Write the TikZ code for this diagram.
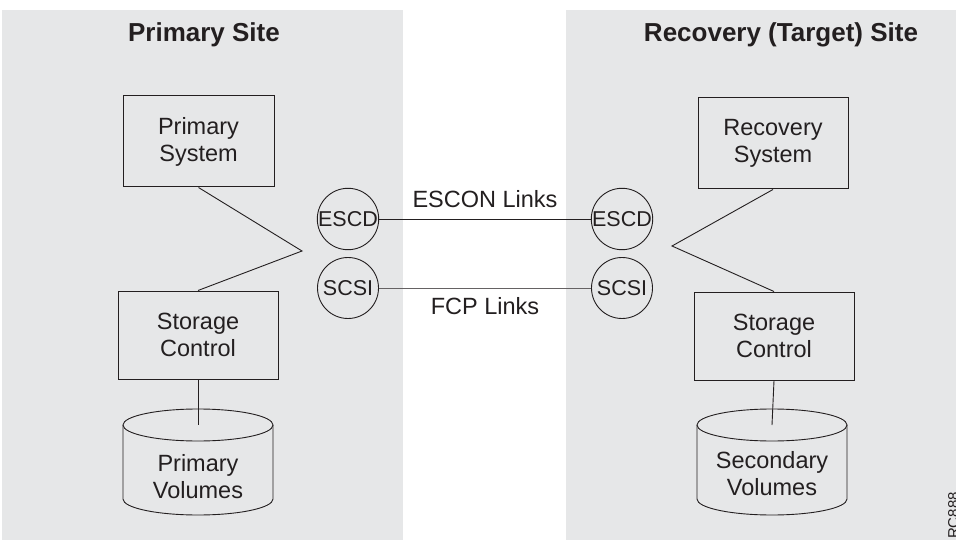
\documentclass[tikz,border=0pt]{standalone}
\usepackage{fontspec}
\setmainfont{Liberation Sans}

\definecolor{sitegray}{HTML}{E6E7E8}
\definecolor{ink}{HTML}{231F20}

\tikzset{
  unit/.style={draw=ink, line width=1pt, align=center, inner sep=0pt, minimum height=91pt},
  port/.style={draw=ink, circle, line width=0.9pt, minimum size=61pt, inner sep=0pt,
    font=\fontsize{21.5}{27}\selectfont},
  wire/.style={draw=ink, line width=0.9pt},
  sitetitle/.style={anchor=base, font=\fontsize{26}{30}\selectfont\bfseries}
}

\begin{document}
\begin{tikzpicture}[x=1pt,y=-1pt,
  every node/.style={text=ink, font=\fontsize{23.5}{27}\selectfont}]
\useasboundingbox (0,0) rectangle (956,540);
\fill[white] (0,0) rectangle (956,540);
\fill[sitegray] (2,10) rectangle (403,540);
\fill[sitegray] (566,10) rectangle (956,540);
% site titles
\node[sitetitle] (ptitle) at (204,41.7) {Primary Site};
\node[sitetitle] (rtitle) at (781,41.7) {Recovery (Target) Site};
% primary site
\node[unit, minimum width=151pt] (psys) at (198.5,141.5) {Primary\\System};
\node[unit, minimum width=160pt, minimum height=88pt] (pstor) at (198,335) {Storage\\Control};
\coordinate (pbend) at (302,251);
\draw[wire] (psys.south) -- (pbend) -- (pstor.north);
\coordinate (pvtop) at (198,425);
\draw[wire] (pstor.south) -- (pvtop);
\draw[wire] (123,425) -- (123,499) arc[start angle=180, end angle=0, x radius=75, y radius=16] -- (273,425);
\draw[wire] (pvtop) ellipse [x radius=75, y radius=16];
\node[align=center] (pvol) at (198,477) {Primary\\Volumes};
% recovery site
\node[unit, minimum width=150pt] (rsys) at (773,143.5) {Recovery\\System};
\node[unit, minimum width=160pt, minimum height=88pt] (rstor) at (774,336) {Storage\\Control};
\coordinate (rbend) at (672,246);
\draw[wire] (rsys.south) -- (rbend) -- (rstor.north);
\coordinate (rvtop) at (772,425);
\draw[wire] (rstor.south) -- (rvtop);
\draw[wire] (697,425) -- (697,499) arc[start angle=180, end angle=0, x radius=75, y radius=16] -- (847,425);
\draw[wire] (rvtop) ellipse [x radius=75, y radius=16];
\node[align=center] (rvol) at (772,474) {Secondary\\Volumes};
% ports and links
\node[port] (lescd) at (348,219) {ESCD};
\node[port] (lscsi) at (348,288) {SCSI};
\node[port] (rescd) at (622,219) {ESCD};
\node[port] (rscsi) at (622,288) {SCSI};
\draw[wire] (lescd) -- (rescd) node[midway, anchor=base, yshift=11pt] (escon) {ESCON Links};
\draw[wire, draw=ink!70] (lscsi) -- (rscsi) node[midway, anchor=base, yshift=-26pt] (fcp) {FCP Links};
% figure id, cut by the page edge
\node[rotate=90, anchor=north east, inner sep=0pt, font=\fontsize{15}{15}\selectfont] (figid) at (948,492) {RC888};
\end{tikzpicture}
\end{document}
